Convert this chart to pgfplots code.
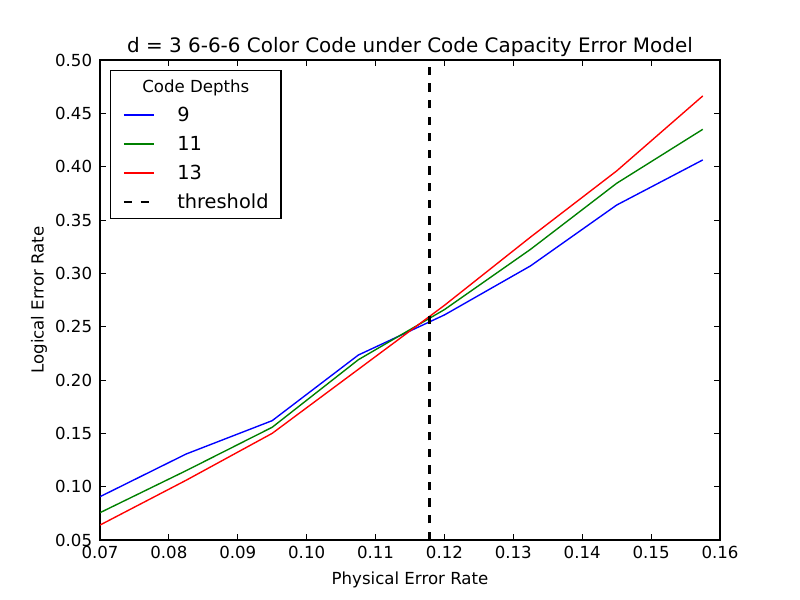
\documentclass[border=0pt]{standalone}
\usepackage{fontspec}
\setmainfont{DejaVu Sans}
\usepackage{pgfplots}
\pgfplotsset{compat=1.18}
\definecolor{mplgreen}{rgb}{0,0.5,0}
\begin{document}
\begin{tikzpicture}
\path (0,0) rectangle (8in,6in);
\begin{axis}[
  at={(1in,0.6in)}, anchor=south west,
  width=6.2in, height=4.8in, scale only axis,
  xmin=0.07, xmax=0.16, ymin=0.05, ymax=0.50,
  xtick={0.07,0.08,...,0.16},
  ytick={0.05,0.10,...,0.50},
  tick align=inside, major tick length=4pt,
  minor tick num=0,
  axis line style={line width=0.8pt},
  every tick/.style={black, line width=0.6pt},
  /pgf/number format/assume math mode=true,
  /pgf/number format/fixed,
  /pgf/number format/fixed zerofill,
  /pgf/number format/precision=2,
  ticklabel style={font=\fontsize{12}{14}\selectfont},
  xticklabel style={inner sep=0pt, yshift=-4.5pt},
  yticklabel style={inner sep=0pt, xshift=-5.5pt},
  scaled ticks=false,
  title={d = 3 6-6-6 Color Code under Code Capacity Error Model},
  title style={at={(axis description cs:0.5,1)}, anchor=base, yshift=-0.7pt, inner sep=0pt, font=\fontsize{14.4}{16}\selectfont},
  xlabel={Physical Error Rate},
  ylabel={Logical Error Rate},
  xlabel style={at={(axis description cs:0.5,-0.0917)}, anchor=base, inner sep=0pt, font=\fontsize{12}{14}\selectfont},
  ylabel style={at={(axis description cs:-0.091,0.5)}, anchor=base, inner sep=0pt, font=\fontsize{12}{14}\selectfont},
  legend style={at={(0,1)}, anchor=north west, xshift=0.1in, yshift=-0.1in,
    draw=black, line width=0.8pt, inner xsep=9pt, inner ysep=4.5pt, row sep=7pt,
    font=\fontsize{14}{16}\selectfont,
    nodes={inner sep=0pt, text height=11pt, text depth=3pt, anchor=west}},
  legend cell align=left,
  legend image code/.code={\draw[#1, line width=1.3pt] (0in,0.36pt) -- (0.3in,0.36pt); \path (0.52in,0in);},
]
\addlegendimage{empty legend}
\addlegendentry{\hspace*{-0.35in}{\fontsize{12}{14}\selectfont Code Depths}}
\addplot[blue, line width=1pt] coordinates {
(0.07,0.0906) (0.0825,0.1306) (0.095,0.1619) (0.1075,0.2234) (0.12,0.2610) (0.1325,0.3070) (0.145,0.3640) (0.1575,0.4063)};
\addlegendentry{9}
\addplot[mplgreen, line width=1pt] coordinates {
(0.07,0.0756) (0.0825,0.1150) (0.095,0.1557) (0.1075,0.2190) (0.12,0.2660) (0.1325,0.3225) (0.145,0.3844) (0.1575,0.4350)};
\addlegendentry{11}
\addplot[red, line width=1pt] coordinates {
(0.07,0.0640) (0.0825,0.1060) (0.095,0.1500) (0.1075,0.2100) (0.12,0.2700) (0.1325,0.3340) (0.145,0.3960) (0.1575,0.4663)};
\addlegendentry{13}
\addplot[black, line width=2pt, dash pattern=on 6pt off 6pt] coordinates {(0.1178,0.05) (0.1178,0.50)};
\addlegendentry{threshold}
\end{axis}
\end{tikzpicture}
\end{document}
